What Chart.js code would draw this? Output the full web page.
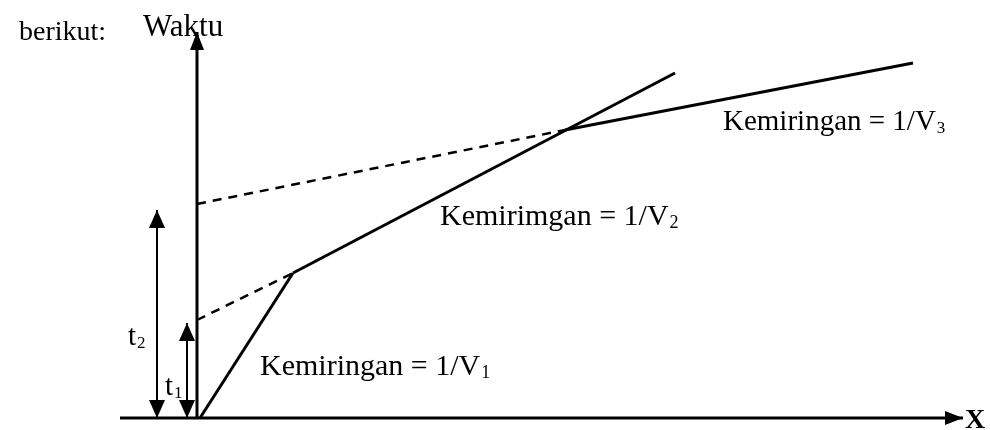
<!DOCTYPE html>
<html>
<head>
<meta charset="utf-8">
<script src="https://cdn.jsdelivr.net/npm/chart.js@4.4.0/dist/chart.umd.min.js"></script>
<style>
  html, body { margin: 0; padding: 0; background: #fff; }
  #wrap { width: 990px; height: 430px; position: relative; }
</style>
</head>
<body>
<div id="wrap"><canvas id="travel-time"></canvas></div>
<script>
// travel time curve (x = distance, y = time)
const segV1 = [{x: 0.3, y: 0}, {x: 9.6, y: 14.5}];
const segV2 = [{x: 9.6, y: 14.5}, {x: 47.8, y: 34.5}];
const segV3 = [{x: 36.8, y: 28.8}, {x: 71.6, y: 35.5}];
const extV2 = [{x: 0, y: 9.8}, {x: 9.6, y: 14.5}];
const extV3 = [{x: 0, y: 21.4}, {x: 36.8, y: 28.8}];

// axes and intercept arrows
const axisX = [{x: -7.7, y: 0}, {x: 76.6, y: 0}];
const axisT = [{x: 0, y: 0}, {x: 0, y: 38.6}];
const arrowT2 = [{x: -4.0, y: 0}, {x: -4.0, y: 20.8}];
const arrowT1 = [{x: -1.0, y: 0}, {x: -1.0, y: 9.5}];

// labels: text, x, y (data units), font size
const labelText = ['berikut:', 'Waktu', 'Kemirimgan = 1/V', 'Kemiringan = 1/V', 'Kemiringan = 1/V', 't', 't', 'X'];
const labelSub  = ['', '', '2', '1', '3', '2', '1', ''];
const labelX    = [-17.8, -5.4, 24.3, 6.3, 52.6, -6.9, -3.2, 76.8];
const labelY    = [37.8, 38.2, 19.3, 4.3, 28.8, 7.3, 2.3, -1.0];
const labelSize = [28, 31, 30, 30, 29, 29, 29, 28];

const ink = '#000';

function solid(data) {
  return { data: data, showLine: true, borderColor: ink, borderWidth: 3, pointRadius: 0, fill: false };
}
function dashed(data) {
  return { data: data, showLine: true, borderColor: ink, borderWidth: 2.5, borderDash: [9, 7], pointRadius: 0, fill: false };
}

function head(ctx, x1, y1, x2, y2, len, wid) {
  const a = Math.atan2(y2 - y1, x2 - x1);
  ctx.save();
  ctx.translate(x2, y2);
  ctx.rotate(a);
  ctx.beginPath();
  ctx.moveTo(0, 0);
  ctx.lineTo(-len, -wid / 2);
  ctx.lineTo(-len, wid / 2);
  ctx.closePath();
  ctx.fillStyle = ink;
  ctx.fill();
  ctx.restore();
}

const decorations = {
  id: 'decorations',
  afterDatasetsDraw(chart) {
    const ctx = chart.ctx;
    const sx = chart.scales.x, sy = chart.scales.y;
    const px = p => [sx.getPixelForValue(p.x), sy.getPixelForValue(p.y)];

    // axis arrow heads
    let a = px(axisX[0]), b = px(axisX[1]);
    head(ctx, a[0], a[1], b[0], b[1], 18, 14);
    a = px(axisT[0]); b = px(axisT[1]);
    head(ctx, a[0], a[1], b[0], b[1], 18, 14);

    // double arrows for the intercept times
    [arrowT2, arrowT1].forEach(arr => {
      const p = px(arr[0]), q = px(arr[1]);
      head(ctx, p[0], p[1], q[0], q[1], 18, 16);
      head(ctx, q[0], q[1], p[0], p[1], 18, 16);
    });

    // labels
    ctx.save();
    ctx.fillStyle = ink;
    ctx.textBaseline = 'alphabetic';
    labelText.forEach((t, i) => {
      const x = sx.getPixelForValue(labelX[i]);
      const y = sy.getPixelForValue(labelY[i]);
      const weight = t === 'X' ? 'bold ' : '';
      ctx.font = weight + labelSize[i] + 'px "Liberation Serif", "DejaVu Serif", serif';
      ctx.fillText(t, x, y);
      if (labelSub[i]) {
        const w = ctx.measureText(t).width;
        ctx.font = Math.round(labelSize[i] * 0.6) + 'px "Liberation Serif", "DejaVu Serif", serif';
        ctx.fillText(labelSub[i], x + w + 1, y + 3);
      }
    });
    ctx.restore();
  }
};

new Chart(document.getElementById('travel-time'), {
  type: 'scatter',
  data: {
    datasets: [
      solid(axisX), solid(axisT),
      { data: arrowT2, showLine: true, borderColor: ink, borderWidth: 2, pointRadius: 0 },
      { data: arrowT1, showLine: true, borderColor: ink, borderWidth: 2, pointRadius: 0 },
      solid(segV1), solid(segV2), solid(segV3),
      dashed(extV2), dashed(extV3)
    ]
  },
  options: {
    responsive: true,
    maintainAspectRatio: false,
    animation: false,
    layout: { padding: 0 },
    plugins: { legend: { display: false }, tooltip: { enabled: false } },
    scales: {
      x: { type: 'linear', min: -19.7, max: 79.3, display: false },
      y: { type: 'linear', min: -1.2, max: 41.8, display: false }
    }
  },
  plugins: [decorations]
});
</script>
</body>
</html>
